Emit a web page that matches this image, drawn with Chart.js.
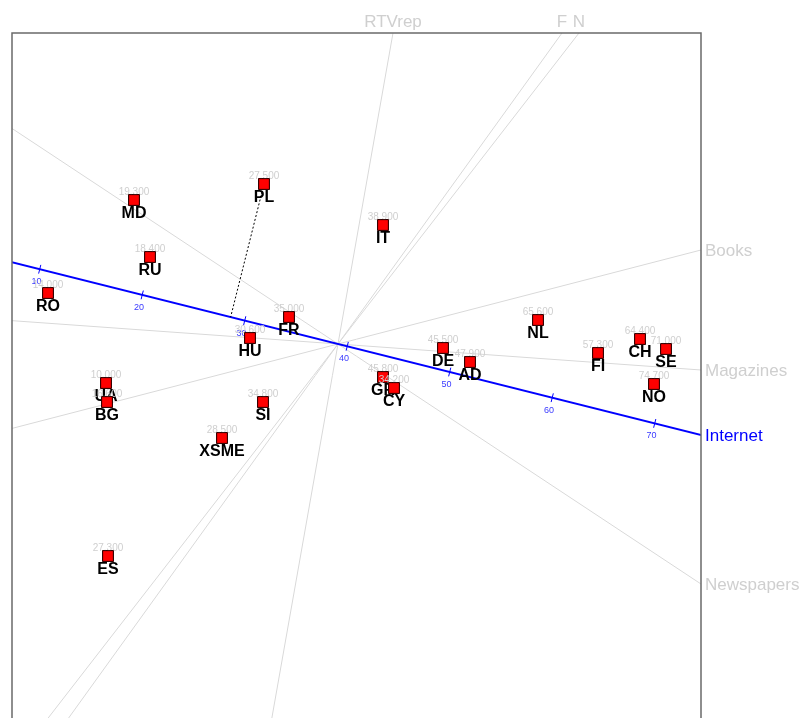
<!DOCTYPE html>
<html>
<head>
<meta charset="utf-8">
<script src="https://cdn.jsdelivr.net/npm/chart.js@4/dist/chart.umd.min.js"></script>
<style>
  html, body { margin: 0; padding: 0; background: #ffffff; overflow: hidden; }
  #wrap { width: 802px; height: 718px; position: relative; }
  canvas { display: block; }
</style>
</head>
<body>
<div id="wrap"><canvas id="c" width="802" height="718"></canvas></div>
<script>
// Country scores on the first two biplot dimensions
const countries = ['MD', 'RU', 'RO', 'PL', 'IT', 'FR', 'HU', 'UA', 'BG', 'SI', 'XSME',
                   'DE', 'AD', 'GR', 'CY', 'NL', 'FI', 'CH', 'SE', 'NO', 'ES'];
const scoreX = [-2.04, -1.88, -2.90, -0.74, 0.45, -0.49, -0.88, -2.32, -2.31, -0.75, -1.16,
                 1.05,  1.32,  0.45,  0.56, 2.00,  2.60,  3.02,  3.28,  3.16, -2.30];
const scoreY = [ 1.44,  0.87,  0.51,  1.60, 1.19,  0.27,  0.06, -0.39, -0.58, -0.58, -0.94,
                -0.04, -0.18, -0.33, -0.44, 0.24, -0.09,  0.05, -0.05, -0.40, -2.12];
// Internet use (%) printed above each country
const internetUse = [19.3, 18.4, 14.0, 27.5, 38.9, 35.0, 30.6, 10.0, 16.6, 34.8, 28.5,
                     45.5, 47.9, 45.8, 34.2, 65.6, 57.3, 64.4, 71.0, 74.7, 27.3];

// Variable axes (directions of the loadings)
const varNames = ['RTVrep', 'F', 'N', 'Books', 'Magazines', 'Newspapers', 'Internet'];
const loadX = [0.55, 2.24, 2.41, 3.63,  3.63,  3.63,  3.63];
const loadY = [3.11, 3.11, 3.11, 0.94, -0.26, -2.40, -0.91];

// Calibration of the Internet axis
const internetTicks = [10, 20, 30, 40, 50, 60, 70];
const internetMean = 39.1;      // value at the origin
const internetStep = 0.10567;   // axis length (score units) per percentage point
const projected = 'PL';         // country projected onto the Internet axis

const GREY_LINE = '#d9d9d9';
const GREY_TEXT = '#cfcfcf';
const BLUE = '#0000ff';

function unitPixelDir(chart, i) {
  const { x, y } = chart.scales;
  const ox = x.getPixelForValue(0), oy = y.getPixelForValue(0);
  const px = x.getPixelForValue(loadX[i]), py = y.getPixelForValue(loadY[i]);
  const dx = px - ox, dy = py - oy, n = Math.hypot(dx, dy);
  return { ox, oy, ex: dx / n, ey: dy / n };
}

const biplotPlugin = {
  id: 'biplot',
  beforeDatasetsDraw(chart) {
    const { ctx, chartArea: a, scales: { x, y } } = chart;
    ctx.save();
    ctx.beginPath();
    ctx.rect(a.left, a.top, a.right - a.left, a.bottom - a.top);
    ctx.clip();

    // full-length variable axes through the origin, Internet last
    const order = varNames.map((_, i) => i).sort((p, q) =>
      (varNames[p] === 'Internet') - (varNames[q] === 'Internet'));
    order.forEach(i => {
      const isInt = varNames[i] === 'Internet';
      ctx.beginPath();
      ctx.moveTo(x.getPixelForValue(-loadX[i] * 10), y.getPixelForValue(-loadY[i] * 10));
      ctx.lineTo(x.getPixelForValue(loadX[i] * 10), y.getPixelForValue(loadY[i] * 10));
      ctx.strokeStyle = isInt ? BLUE : GREY_LINE;
      ctx.lineWidth = isInt ? 2 : 1;
      ctx.stroke();
    });

    // Internet calibration ticks
    const ii = varNames.indexOf('Internet');
    const d = unitPixelDir(chart, ii);
    const nx = -d.ey, ny = d.ex;               // perpendicular, pointing below the axis
    const pxPerUnit = x.getPixelForValue(1) - x.getPixelForValue(0);
    ctx.strokeStyle = BLUE;
    ctx.lineWidth = 1;
    ctx.fillStyle = '#3a3aff';
    ctx.font = '9px "Liberation Sans", Arial, sans-serif';
    ctx.textAlign = 'center';
    ctx.textBaseline = 'middle';
    internetTicks.forEach(v => {
      const s = (v - internetMean) * internetStep * pxPerUnit;
      const tx = d.ox + d.ex * s, ty = d.oy + d.ey * s;
      ctx.beginPath();
      ctx.moveTo(tx - nx * 4.5, ty - ny * 4.5);
      ctx.lineTo(tx + nx * 4.5, ty + ny * 4.5);
      ctx.stroke();
      ctx.fillText(String(v), tx + nx * 13, ty + ny * 13);
    });

    // dotted projection of one country onto the Internet axis
    const k = countries.indexOf(projected);
    const cx = x.getPixelForValue(scoreX[k]), cy = y.getPixelForValue(scoreY[k]);
    const t = (cx - d.ox) * d.ex + (cy - d.oy) * d.ey;
    ctx.beginPath();
    ctx.setLineDash([2, 2]);
    ctx.moveTo(cx, cy);
    ctx.lineTo(d.ox + d.ex * t, d.oy + d.ey * t);
    ctx.strokeStyle = '#000000';
    ctx.stroke();
    ctx.setLineDash([]);
    ctx.restore();
  },
  afterDatasetsDraw(chart) {
    const { ctx } = chart;
    const meta = chart.getDatasetMeta(0);
    ctx.save();
    ctx.textAlign = 'center';
    ctx.textBaseline = 'middle';
    meta.data.forEach((pt, i) => {
      const px = pt.x, py = pt.y;
      ctx.fillStyle = GREY_TEXT;
      ctx.font = '10px "Liberation Sans", Arial, sans-serif';
      ctx.fillText(internetUse[i].toFixed(3), px, py - 8);
      // square drawn again so each country sits above the earlier labels
      const r = pt.options.radius * Math.SQRT1_2;
      ctx.fillStyle = pt.options.backgroundColor;
      ctx.strokeStyle = pt.options.borderColor;
      ctx.lineWidth = pt.options.borderWidth;
      ctx.beginPath();
      ctx.rect(px - r, py - r, 2 * r, 2 * r);
      ctx.fill();
      ctx.stroke();
      ctx.fillStyle = '#000000';
      ctx.font = 'bold 16px "Liberation Sans", Arial, sans-serif';
      ctx.fillText(countries[i], px, py + 14);
    });
    ctx.restore();
  },
  afterDraw(chart) {
    const { ctx, chartArea: a } = chart;
    ctx.save();
    // plot frame (open at the bottom)
    ctx.strokeStyle = '#6a6a6a';
    ctx.lineWidth = 1.5;
    ctx.beginPath();
    ctx.moveTo(a.left, a.bottom + 2);
    ctx.lineTo(a.left, a.top);
    ctx.lineTo(a.right, a.top);
    ctx.lineTo(a.right, a.bottom + 2);
    ctx.stroke();

    // variable names where each axis leaves the frame
    ctx.font = '17px "Liberation Sans", Arial, sans-serif';
    varNames.forEach((name, i) => {
      const d = unitPixelDir(chart, i);
      const tR = d.ex > 0 ? (a.right - d.ox) / d.ex : Infinity;
      const tT = d.ey < 0 ? (a.top - d.oy) / d.ey : Infinity;
      const tB = d.ey > 0 ? (a.bottom - d.oy) / d.ey : Infinity;
      const t = Math.min(tR, tT, tB);
      const ex = d.ox + d.ex * t, ey = d.oy + d.ey * t;
      ctx.fillStyle = name === 'Internet' ? BLUE : GREY_TEXT;
      if (t === tR) {
        ctx.textAlign = 'left';
        ctx.textBaseline = 'middle';
        ctx.fillText(name, ex + 4, ey + 1);
      } else {
        ctx.textAlign = 'center';
        ctx.textBaseline = 'alphabetic';
        ctx.fillText(name, ex, ey - 6);
      }
    });
    ctx.restore();
  }
};

new Chart(document.getElementById('c'), {
  type: 'scatter',
  data: {
    datasets: [{
      data: countries.map((c, i) => ({ x: scoreX[i], y: scoreY[i] })),
      pointStyle: 'rect',
      pointRadius: 7.6,
      pointHoverRadius: 7.6,
      backgroundColor: '#ff0000',
      borderColor: '#2b0000',
      borderWidth: 1
    }]
  },
  options: {
    responsive: false,
    devicePixelRatio: 1,
    animation: false,
    layout: { autoPadding: false, padding: { left: 12, top: 33, right: 101, bottom: 0 } },
    scales: {
      x: { type: 'linear', min: -3.26, max: 3.63, display: false },
      y: { type: 'linear', min: -3.74, max: 3.11, display: false }
    },
    plugins: { legend: { display: false }, tooltip: { enabled: false } },
    events: []
  },
  plugins: [biplotPlugin]
});
</script>
</body>
</html>
